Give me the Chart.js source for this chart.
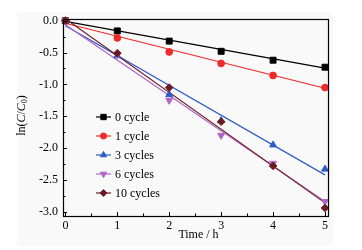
<!DOCTYPE html>
<html><head><meta charset="utf-8">
<script src="https://cdn.jsdelivr.net/npm/chart.js@4/dist/chart.umd.min.js"></script>
<style>html,body{margin:0;padding:0;background:#fff}</style>
</head><body>
<canvas id="c" width="362" height="250"></canvas>
<script>
// ---- data ----
const times = [0, 1, 2, 3, 4, 5];
const seriesNames = ['0 cycle', '1 cycle', '3 cycles', '6 cycles', '10 cycles'];
const cycle0  = [0, -0.16, -0.32, -0.48, -0.62, -0.73];
const cycle1  = [0, -0.27, -0.49, -0.67, -0.86, -1.05];
const cycle3  = [0, -0.55, -1.16, -1.57, -1.95, -2.33];
const cycle6  = [0, -0.53, -1.25, -1.80, -2.24, -2.84];
const cycle10 = [0, -0.51, -1.05, -1.585, -2.28, -2.94];
// fitted lines (value at start and end time)
const fitTimes = [0, 5];
const fit0  = [-0.01, -0.745];
const fit1  = [-0.04, -1.06];
const fit3  = [-0.08, -2.42];
const fit6  = [-0.065, -2.84];
const fit10 = [0.03, -2.86];
// axis ticks
const xMajor = [0, 1, 2, 3, 4, 5];
const xMinor = [0.5, 1.5, 2.5, 3.5, 4.5];
const xLabels = ['0', '1', '2', '3', '4', '5'];
const yMajor = [0, -0.5, -1, -1.5, -2, -2.5, -3];
const yMinor = [-0.25, -0.75, -1.25, -1.75, -2.25, -2.75];
const yLabels = ['0.0', '-0.5', '-1.0', '-1.5', '-2.0', '-2.5', '-3.0'];

// ---- styles ----
const colors = ['#000000', '#f02a2a', '#2c5cc5', '#b064c6', '#6c1b22'];
const styles = [
  {pointStyle: 'rect', radius: 4.2, rotation: 0},
  {pointStyle: 'circle', radius: 3.4, rotation: 0},
  {pointStyle: 'triangle', radius: 4, rotation: 0},
  {pointStyle: 'triangle', radius: 4, rotation: 180},
  {pointStyle: 'rectRot', radius: 3.8, rotation: 0}
];
const values = [cycle0, cycle1, cycle3, cycle6, cycle10];
const fits = [fit0, fit1, fit3, fit6, fit10];
const FONT = '"Liberation Serif", "Times New Roman", serif';

const datasets = [];
fits.forEach((f, i) => {
  datasets.push({
    label: seriesNames[i] + ' fit',
    data: fitTimes.map((t, k) => ({x: t, y: f[k]})),
    showLine: true, borderColor: colors[i], borderWidth: 1.2,
    pointRadius: 0, fill: false, order: 10 - i
  });
});
values.forEach((v, i) => {
  datasets.push({
    label: seriesNames[i],
    data: times.map((t, k) => ({x: t, y: v[k]})),
    showLine: false, backgroundColor: colors[i], borderColor: colors[i],
    borderWidth: 1, pointStyle: styles[i].pointStyle, pointRadius: styles[i].radius,
    pointRotation: styles[i].rotation, clip: false, order: 5 - i
  });
});

function findLabel(v, majors, labels) {
  for (let i = 0; i < majors.length; i++) if (Math.abs(majors[i] - v) < 1e-6) return labels[i];
  return '';
}

const decor = {
  id: 'decor',
  beforeDraw(chart) {
    const c = chart.ctx;
    c.save();
    c.fillStyle = '#ffffff';
    c.fillRect(0, 0, chart.width, chart.height);
    c.fillStyle = '#f9f9f9';
    c.fillRect(17, 12, 316, 234);
    c.restore();
  },
  afterDraw(chart) {
    const c = chart.ctx;
    const a = chart.chartArea;
    const xs = chart.scales.x, ys = chart.scales.y;
    c.save();
    c.strokeStyle = '#000';
    c.lineWidth = 1;
    // inward ticks
    c.beginPath();
    xMajor.forEach(v => { const p = Math.round(xs.getPixelForValue(v)) + 0.5; c.moveTo(p, a.bottom); c.lineTo(p, a.bottom - 4); });
    xMinor.forEach(v => { const p = Math.round(xs.getPixelForValue(v)) + 0.5; c.moveTo(p, a.bottom); c.lineTo(p, a.bottom - 2.5); });
    yMajor.forEach(v => { const p = Math.round(ys.getPixelForValue(v)) + 0.5; c.moveTo(a.left, p); c.lineTo(a.left + 4, p); });
    yMinor.forEach(v => { const p = Math.round(ys.getPixelForValue(v)) + 0.5; c.moveTo(a.left, p); c.lineTo(a.left + 2.5, p); });
    c.stroke();
    // frame
    c.lineWidth = 1.2;
    c.strokeRect(Math.round(a.left) + 0.5, Math.round(a.top) + 0.5, Math.round(a.right - a.left), Math.round(a.bottom - a.top));
    // legend
    const lx0 = 96, lx1 = 111, ly0 = 117, dy = 19;
    c.font = '12px ' + FONT;
    c.textBaseline = 'middle';
    c.textAlign = 'left';
    seriesNames.forEach((name, i) => {
      const y = ly0 + i * dy;
      c.strokeStyle = colors[i];
      c.lineWidth = 1.2;
      c.beginPath(); c.moveTo(lx0, y); c.lineTo(lx1, y); c.stroke();
      c.fillStyle = colors[i];
      c.strokeStyle = colors[i];
      c.lineWidth = 1;
      Chart.helpers.drawPoint(c, {pointStyle: styles[i].pointStyle, radius: styles[i].radius * 0.9, rotation: styles[i].rotation, borderWidth: 1}, (lx0 + lx1) / 2, y);
      c.fillStyle = '#000';
      c.fillText(name, 115, y + 0.5);
    });
    // x title
    c.fillStyle = '#000';
    c.textAlign = 'center';
    c.fillText('Time / h', (a.left + a.right) / 2 + 3, 235);
    // y title: ln(C/C0) rotated
    c.translate(21.5, (a.top + a.bottom) / 2 - 2);
    c.rotate(-Math.PI / 2);
    const parts = [
      {t: 'ln(', f: '12px ' + FONT, dy: 0},
      {t: 'C', f: 'italic 12px ' + FONT, dy: 0},
      {t: '/', f: '12px ' + FONT, dy: 0},
      {t: 'C', f: 'italic 12px ' + FONT, dy: 0},
      {t: '0', f: '8px ' + FONT, dy: 3},
      {t: ')', f: '12px ' + FONT, dy: 0}
    ];
    let total = 0;
    parts.forEach(p => { c.font = p.f; p.w = c.measureText(p.t).width; total += p.w; });
    let x = -total / 2;
    c.textAlign = 'left';
    parts.forEach(p => { c.font = p.f; c.fillText(p.t, x, p.dy); x += p.w; });
    c.restore();
  }
};

new Chart(document.getElementById('c'), {
  type: 'scatter',
  data: {datasets},
  options: {
    responsive: false, animation: false, devicePixelRatio: 1,
    layout: {padding: {left: 0, right: 34, top: 19, bottom: 0}},
    plugins: {legend: {display: false}, tooltip: {enabled: false}},
    scales: {
      x: {
        type: 'linear', min: -0.046, max: 5.058,
        afterFit(s) { s.height = 34; },
        afterBuildTicks(s) { s.ticks = xMajor.map(v => ({value: v})); },
        ticks: {callback: v => findLabel(v, xMajor, xLabels), padding: 3, color: '#000',
          font: {family: FONT, size: 12}, maxRotation: 0, autoSkip: false},
        grid: {display: false, drawTicks: false}, border: {display: false}
      },
      y: {
        type: 'linear', min: -3.066, max: 0.027,
        afterFit(s) { s.width = 63; },
        afterBuildTicks(s) { s.ticks = yMajor.map(v => ({value: v})); },
        ticks: {callback: v => findLabel(v, yMajor, yLabels), padding: 5, color: '#000',
          font: {family: FONT, size: 12}, autoSkip: false},
        grid: {display: false, drawTicks: false}, border: {display: false}
      }
    }
  },
  plugins: [decor]
});
</script>
</body></html>
